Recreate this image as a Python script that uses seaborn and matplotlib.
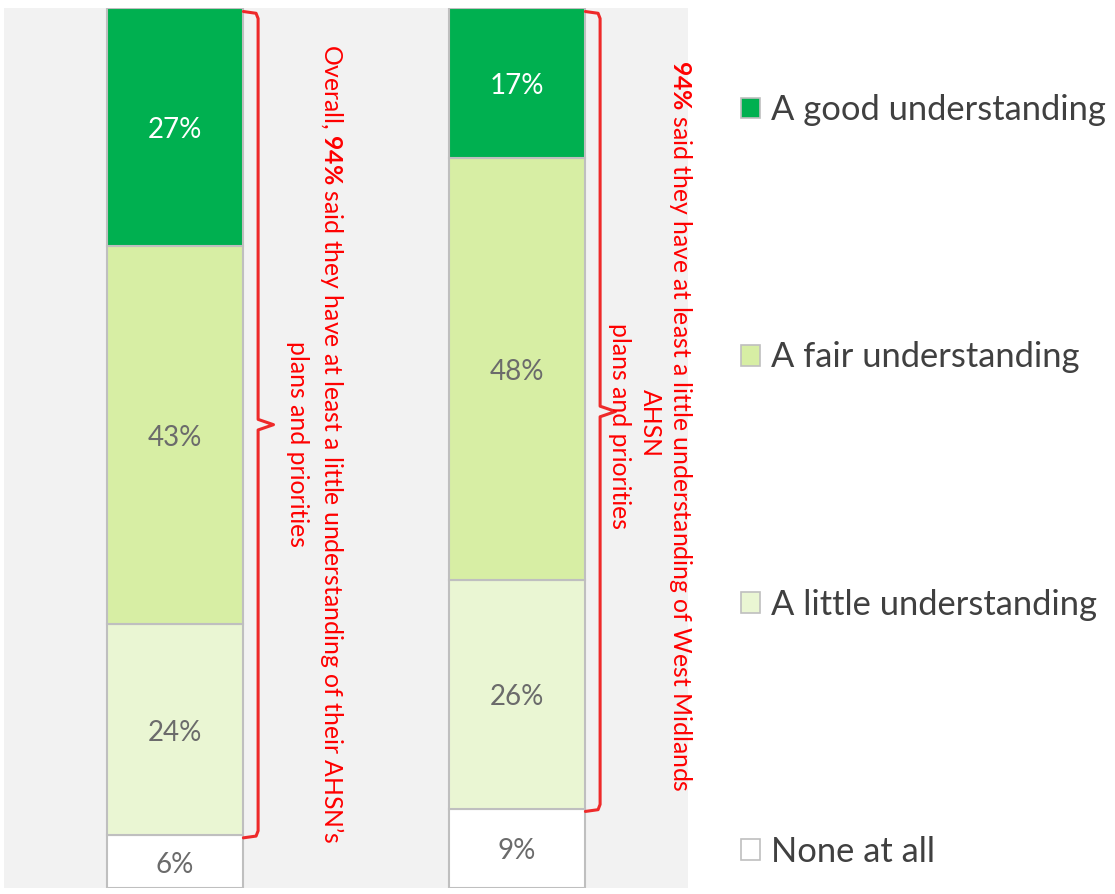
import numpy as np
import pandas as pd
import matplotlib
matplotlib.use("Agg")
import matplotlib.pyplot as plt
from matplotlib.patches import Patch
import seaborn as sns

# Response levels, listed from the top of each stack to the bottom
levels = ["A good understanding", "A fair understanding",
          "A little understanding", "None at all"]
groups = ["Overall", "West Midlands AHSN"]

# Percentage of respondents per level (top to bottom) for each group
overall_pct = [27, 43, 24, 6]
west_midlands_pct = [17, 48, 26, 9]

level_colors = ["#00B050", "#D7EEA4", "#EAF6D3", "#FFFFFF"]
label_colors = ["#FFFFFF", "#6B6B6B", "#6B6B6B", "#6B6B6B"]

sns.set_theme(style="white")
plt.rcParams["font.family"] = ["Lato", "DejaVu Sans"]
plt.rcParams["mathtext.fontset"] = "custom"
plt.rcParams["mathtext.rm"] = "Lato"
plt.rcParams["mathtext.bf"] = "Lato:bold"

rows = []
for gi, vals in enumerate([overall_pct, west_midlands_pct]):
    for lev, v in zip(levels, vals):
        rows.append({"pos": gi, "group": groups[gi], "level": lev, "pct": v})
df = pd.DataFrame(rows)

fig = plt.figure(figsize=(11.15, 8.94), dpi=100)
ax = fig.add_axes([4 / 1115, 1 - 888 / 894, 684 / 1115, 880 / 894])
ax.set_facecolor("#F2F2F2")

sns.histplot(data=df, x="pos", hue="level", weights="pct", hue_order=levels,
             palette=dict(zip(levels, level_colors)), multiple="stack",
             discrete=True, shrink=0.4, alpha=1, edgecolor="#BFBFBF",
             linewidth=1.5, legend=False, ax=ax)

ax.set_xlim(-0.5, 1.5)
ax.set_ylim(0, 100)
ax.set_xticks([])
ax.set_yticks([])
ax.set_xlabel("")
ax.set_ylabel("")
for s in ax.spines.values():
    s.set_visible(False)

# Value labels in the middle of each segment
for gi, vals in enumerate([overall_pct, west_midlands_pct]):
    bottoms = np.cumsum([0] + vals[::-1][:-1])[::-1]
    for v, b, c in zip(vals, bottoms, label_colors):
        ax.annotate(f"{v}%", (gi, b + v / 2), xytext=(0, -2.2),
                    textcoords="offset points", ha="center", va="center",
                    fontsize=20, color=c)

# Red braces spanning everyone with at least a little understanding
brace_red = "#EE2A2A"
for gi, vals in enumerate([overall_pct, west_midlands_pct]):
    top = 99.6
    bot = vals[-1] - 0.3
    mid = (top + bot) / 2
    x0 = gi + 0.2
    x1 = gi + 0.243
    xs = [x0, x1 - 0.006, x1, x1, x1 + 0.045, x1, x1, x1 - 0.006, x0]
    ys = [top, top - 0.2, top - 0.8, mid + 0.6, mid, mid - 0.6,
          bot + 0.8, bot + 0.2, bot]
    ax.plot(xs, ys, color=brace_red, lw=2.2, solid_joinstyle="round",
            solid_capstyle="round")


def px_x(px):
    return (px - 4) / 342 - 0.5


def px_y(px):
    return 100 - (px - 8) / 8.8


text_red = "#FF0000"
note_size = 17.8
ax.text(px_x(332), px_y(444),
        r"Overall, $\mathbf{94\%}$ said they have at least a little understanding of their AHSN’s",
        rotation=270, ha="center", va="center", fontsize=note_size, color=text_red)
ax.text(px_x(298), px_y(444), "plans and priorities",
        rotation=270, ha="center", va="center", fontsize=note_size, color=text_red)

ax.text(px_x(680), px_y(426),
        r"$\mathbf{94\%}$ said they have at least a little understanding of West Midlands",
        rotation=270, ha="center", va="center", fontsize=note_size, color=text_red,
        clip_on=False)
ax.text(px_x(650), px_y(423), "AHSN",
        rotation=270, ha="center", va="center", fontsize=note_size, color=text_red)
ax.text(px_x(619), px_y(426), "plans and priorities",
        rotation=270, ha="center", va="center", fontsize=note_size, color=text_red)

handles = [Patch(facecolor=c, edgecolor="#BFBFBF", linewidth=1.2)
           for c in level_colors]
fig.legend(handles, levels, loc="center left",
           bbox_to_anchor=(741 / 1115, 1 - 481 / 894), frameon=False,
           fontsize=24.8, labelcolor="#404040", handlelength=0.55,
           handleheight=0.55, handletextpad=0.32, labelspacing=6.25,
           borderpad=0, borderaxespad=0)

fig.savefig("out.png", dpi=100)
